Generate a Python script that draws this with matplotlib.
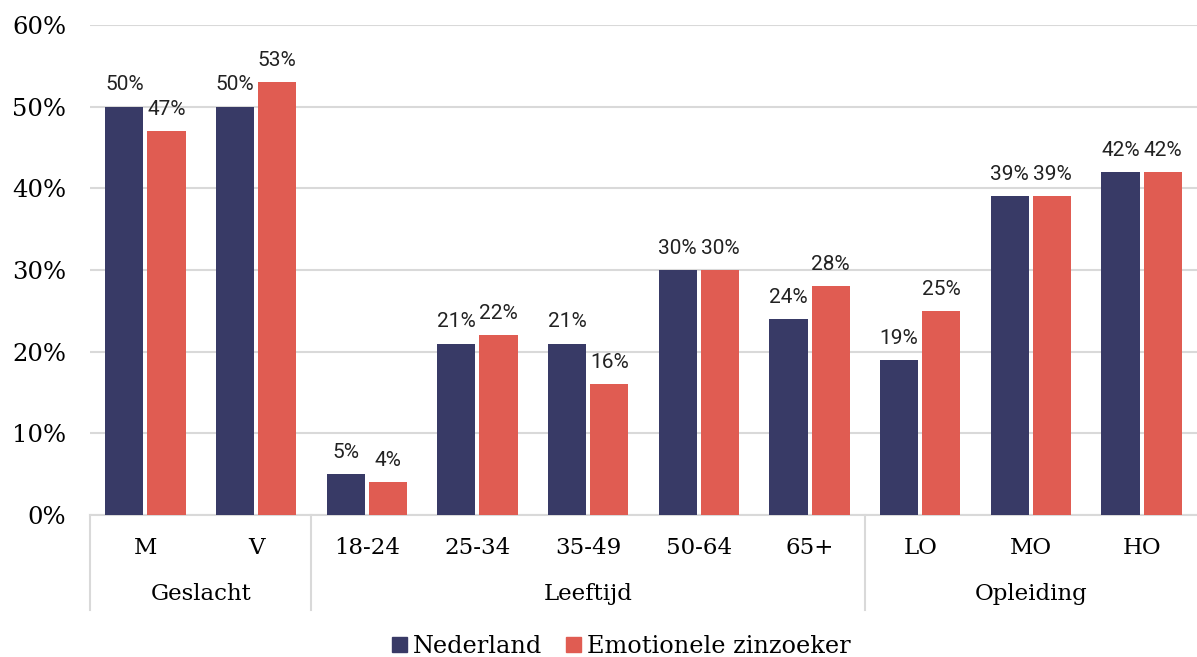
import matplotlib
matplotlib.use("Agg")
import matplotlib.pyplot as plt
import numpy as np

categories = ["M", "V", "18-24", "25-34", "35-49", "50-64", "65+", "LO", "MO", "HO"]
groups = ["Geslacht", "Leeftijd", "Opleiding"]
group_sizes = [2, 5, 3]
nederland = [50, 50, 5, 21, 21, 30, 24, 19, 39, 42]
zinzoeker = [47, 53, 4, 22, 16, 30, 28, 25, 39, 42]
series_names = ["Nederland", "Emotionele zinzoeker"]
yticks = [0, 10, 20, 30, 40, 50, 60]

navy = "#383a66"
red = "#e05c52"
serif = "DejaVu Serif"
sans = "Roboto"

fig = plt.figure(figsize=(11.97, 6.57), dpi=100)
ax = fig.add_axes([0.0752, 0.2161, 0.9248, 0.7459])

x = np.arange(len(categories))
w = 0.345
off = w / 2 + 0.018
b1 = ax.bar(x - off, nederland, w, color=navy, zorder=3)
b2 = ax.bar(x + off, zinzoeker, w, color=red, zorder=3)

for bars, vals in ((b1, nederland), (b2, zinzoeker)):
    for b, v in zip(bars, vals):
        ax.text(b.get_x() + b.get_width() / 2, v + 1.5, f"{v}%", ha="center", va="bottom",
                fontsize=15, family=sans, color="#222222")

ax.set_xlim(-0.5, len(categories) - 0.5)
ax.set_ylim(0, 60)
ax.set_yticks(yticks)
ax.set_yticklabels([f"{t}%" for t in yticks], family=serif, fontsize=17.5)
ax.grid(axis="y", color="#d9d9d9", linewidth=1.5, zorder=0)
for s in ["left", "right", "top"]:
    ax.spines[s].set_visible(False)
ax.spines["bottom"].set_color("#d9d9d9")
ax.spines["bottom"].set_linewidth(1.5)
ax.tick_params(axis="y", length=0, pad=17)
ax.tick_params(axis="x", length=0, pad=16)
ax.set_xticks(x)
ax.set_xticklabels(categories, family=serif, fontsize=16.5)

# group separators and labels
start = 0
trans = ax.get_xaxis_transform()
bounds = [-0.5]
for g, n in zip(groups, group_sizes):
    center = start + (n - 1) / 2
    ax.text(center, -0.161, g, transform=trans, ha="center", va="center",
            family=serif, fontsize=16.5)
    start += n
    bounds.append(start - 0.5)
for bx in bounds[:-1]:
    ax.plot([bx, bx], [0, -0.194], transform=trans, color="#d9d9d9", lw=1.5, clip_on=False)

# legend
handles = [plt.Rectangle((0, 0), 1, 1, color=navy), plt.Rectangle((0, 0), 1, 1, color=red)]
fig.legend(handles, series_names, loc="center", bbox_to_anchor=(0.519, 0.016), ncol=2,
           frameon=False, prop={"family": serif, "size": 17.3}, handlelength=0.62,
           handleheight=0.62, handletextpad=0.25, columnspacing=1.0)

fig.savefig("out.png", dpi=100)
